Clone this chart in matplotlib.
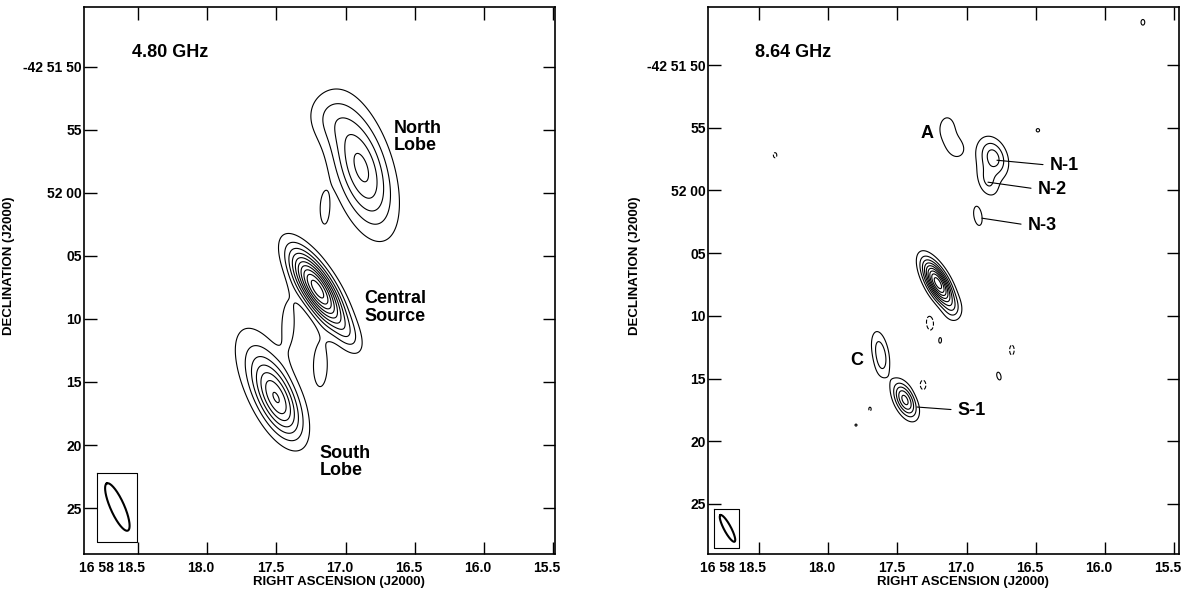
import numpy as np
import matplotlib.pyplot as plt
import matplotlib.transforms as mt

plt.rcParams['font.family'] = ['Liberation Sans', 'DejaVu Sans']
plt.rcParams['font.weight'] = 'bold'

# ---- sky components ----
# RA = seconds of 16 58 xx, DEC = arcsec south of -42 51 00 (so 52 05 -> 65)
# 4.80 GHz
ra_48 = [17.203, 17.413, 17.181, 16.978, 16.885, 17.137, 17.152, 17.490, 17.600]
dec_48 = [67.62, 70.24, 73.65, 71.27, 58.02, 54.00, 61.35, 76.50, 74.00]
amp_48 = [10.6, 1.45, 1.6, 1.3, 5.3, 1.15, 1.4, 5.9, 1.8]
bmaj_48 = [5.5, 4.0, 4.0, 3.0, 7.8, 3.5, 3.0, 5.2, 7.0]
bmin_48 = [1.95, 1.2, 1.3, 1.5, 3.3, 3.0, 0.9, 2.3, 3.2]
pa_48 = [32, 0, 0, 30, 17, 20, 0, 25, 25]
levels_48 = [1, 2, 3, 4, 5, 6, 7, 8, 9, 10]

# 8.64 GHz
ra_86 = [17.207, 17.098, 16.802, 16.845, 16.860, 17.141, 17.084, 16.918, 16.484,
         15.725, 17.626, 17.612, 17.445, 17.192, 16.766, 17.799,
         17.264, 17.315, 16.672, 17.698, 18.384]
dec_86 = [67.39, 69.54, 57.35, 59.34, 57.75, 55.05, 56.55, 62.05, 55.20,
          46.59, 72.81, 74.00, 76.71, 71.93, 74.80, 78.71,
          70.58, 75.52, 72.73, 77.43, 57.19]
amp_86 = [9.6, 1.1, 3.0, 1.6, 0.7, 1.6, 1.55, 1.3, 1.05,
          1.1, 2.4, 0.8, 5.4, 1.15, 1.15, 1.05,
          -1.3, -1.2, -1.2, -1.1, -1.15]
bmaj_86 = [3.2, 1.6, 2.4, 2.0, 4.5, 2.0, 1.7, 2.4, 1.0,
           1.2, 2.8, 2.0, 2.4, 1.2, 1.4, 0.6,
           1.8, 1.5, 1.5, 0.8, 0.9]
bmin_86 = [1.25, 1.2, 1.6, 1.2, 2.5, 1.3, 1.3, 1.0, 1.0,
           0.8, 1.1, 1.0, 1.2, 0.6, 0.7, 0.6,
           0.9, 0.9, 0.7, 0.5, 0.6]
pa_86 = [29, 0, 20, 20, 20, 0, 20, 10, 0,
         0, 10, 0, 25, 0, 15, 0,
         5, 0, 0, 0, 0]
levels_86 = [-1, 1, 2, 3, 4, 5, 6, 7, 8, 9]

# restoring beams: centre ra, dec, bmaj, bmin (arcsec), pa (deg); box corners
beam_48 = [18.649, 84.92, 4.1, 1.1, 24]
box_48 = [18.797, 18.507, 82.22, 87.70]
beam_86 = [18.728, 86.95, 2.4, 0.56, 28]
box_86 = [18.825, 18.645, 85.40, 88.51]

xticks = [18.5, 18.0, 17.5, 17.0, 16.5, 16.0, 15.5]
xlabels = ['16 58 18.5', '18.0', '17.5', '17.0', '16.5', '16.0', '15.5']
yticks = [50, 55, 60, 65, 70, 75, 80, 85]
ylabels = ['-42 51 50', '55', '52 00', '05', '10', '15', '20', '25']

ARCS = 15 * np.cos(np.radians(42.86))  # arcsec per RA second


def sky(ra, dec, ras, decs, amps, bmaj, bmin, pas):
    R, D = np.meshgrid(ra, dec)
    img = np.zeros_like(R)
    for r0, d0, a, mj, mn, p in zip(ras, decs, amps, bmaj, bmin, pas):
        de = (R - r0) * ARCS
        dn = -(D - d0)
        t = np.radians(p)
        u = de * np.sin(t) + dn * np.cos(t)
        v = de * np.cos(t) - dn * np.sin(t)
        img += a * np.exp(-4 * np.log(2) * ((u / mj) ** 2 + (v / mn) ** 2))
    return img


def beam(ax, b, box):
    r0, d0, mj, mn, p = b
    th = np.linspace(0, 2 * np.pi, 200)
    u = mj / 2 * np.cos(th)
    v = mn / 2 * np.sin(th)
    t = np.radians(p)
    de = u * np.sin(t) + v * np.cos(t)
    dn = u * np.cos(t) - v * np.sin(t)
    ax.plot(r0 + de / ARCS, d0 - dn, color='black', lw=1.5)
    x0, x1, y0, y1 = box
    ax.plot([x0, x1, x1, x0, x0], [y0, y0, y1, y1, y0], color='black', lw=0.8)


ra = np.linspace(15.4, 19.0, 1800)
dec = np.linspace(44.0, 90.0, 1600)

fig = plt.figure(figsize=(11.84, 5.93), dpi=100)
ax1 = fig.add_axes([0.07095, 0.06577, 0.39780, 0.92243])
ax2 = fig.add_axes([0.59797, 0.06577, 0.39780, 0.92243])

img48 = sky(ra, dec, ra_48, dec_48, amp_48, bmaj_48, bmin_48, pa_48)
img86 = sky(ra, dec, ra_86, dec_86, amp_86, bmaj_86, bmin_86, pa_86)

ax1.contour(ra, dec, img48, levels=levels_48, colors='black', linewidths=0.8)
ax2.contour(ra, dec, img86, levels=levels_86, colors='black', linewidths=0.8,
            negative_linestyles='dashed')

beam(ax1, beam_48, box_48)
beam(ax2, beam_86, box_86)

ax1.set_xlim(18.890, 15.486)
ax1.set_ylim(88.65, 45.24)
ax2.set_xlim(18.869, 15.464)
ax2.set_ylim(88.99, 45.37)

for ax in (ax1, ax2):
    ax.set_xticks(xticks)
    ax.set_xticklabels(xlabels)
    ax.set_yticks(yticks)
    ax.set_yticklabels(ylabels)
    ax.tick_params(direction='in', length=9, width=1, top=True, right=True,
                   labelsize=10, pad=5)
    ax.tick_params(axis='y', pad=1.5)
    # labels sit a little left of their ticks
    for i, tl in enumerate(ax.get_xticklabels()):
        if i == 0:
            tl.set_horizontalalignment('right')
            dx = 7
        else:
            dx = -6
        tl.set_transform(tl.get_transform() + mt.ScaledTranslation(dx / 100, 0, fig.dpi_scale_trans))
    for s in ax.spines.values():
        s.set_linewidth(1.2)
    ax.set_xlabel('RIGHT ASCENSION (J2000)', fontsize=9.5, fontweight='bold')
    ax.xaxis.set_label_coords(0.541, -0.040)
    ax.set_ylabel('DECLINATION (J2000)', fontsize=9.5, fontweight='bold')

ax1.yaxis.set_label_coords(-0.1465, 0.5265)
ax2.yaxis.set_label_coords(-0.142, 0.5265)

ax1.text(0.102, 0.916, '4.80 GHz', transform=ax1.transAxes, fontsize=13,
         fontweight='bold', va='center')
ax2.text(0.0998, 0.916, '8.64 GHz', transform=ax2.transAxes, fontsize=13,
         fontweight='bold', va='center')

lab = dict(fontsize=13, fontweight='bold', va='center', ha='left', linespacing=1.05)
ax1.text(16.652, 55.56, 'North\nLobe', **lab)
ax1.text(16.862, 69.09, 'Central\nSource', **lab)
ax1.text(17.188, 81.35, 'South\nLobe', **lab)

ax2.text(17.286, 55.44, 'A', fontsize=13, fontweight='bold', va='center', ha='center')
ax2.text(17.792, 73.53, 'C', fontsize=13, fontweight='bold', va='center', ha='center')

ptr = dict(arrowstyle='-', color='black', lw=0.8, shrinkA=3, shrinkB=0,
           relpos=(0, 0.5))
names = ['N-1', 'N-2', 'N-3', 'S-1']
tip_ra = [16.780, 16.845, 16.889, 17.358]
tip_dec = [57.59, 59.34, 62.21, 77.27]
txt_ra = [16.397, 16.484, 16.556, 17.062]
txt_dec = [57.99, 59.90, 62.77, 77.51]
for n, xr, yd, tr, td in zip(names, tip_ra, tip_dec, txt_ra, txt_dec):
    ax2.annotate(n, xy=(xr, yd), xytext=(tr, td), fontsize=13, fontweight='bold',
                 va='center', ha='left', arrowprops=ptr)

fig.savefig('out.png', dpi=100)
